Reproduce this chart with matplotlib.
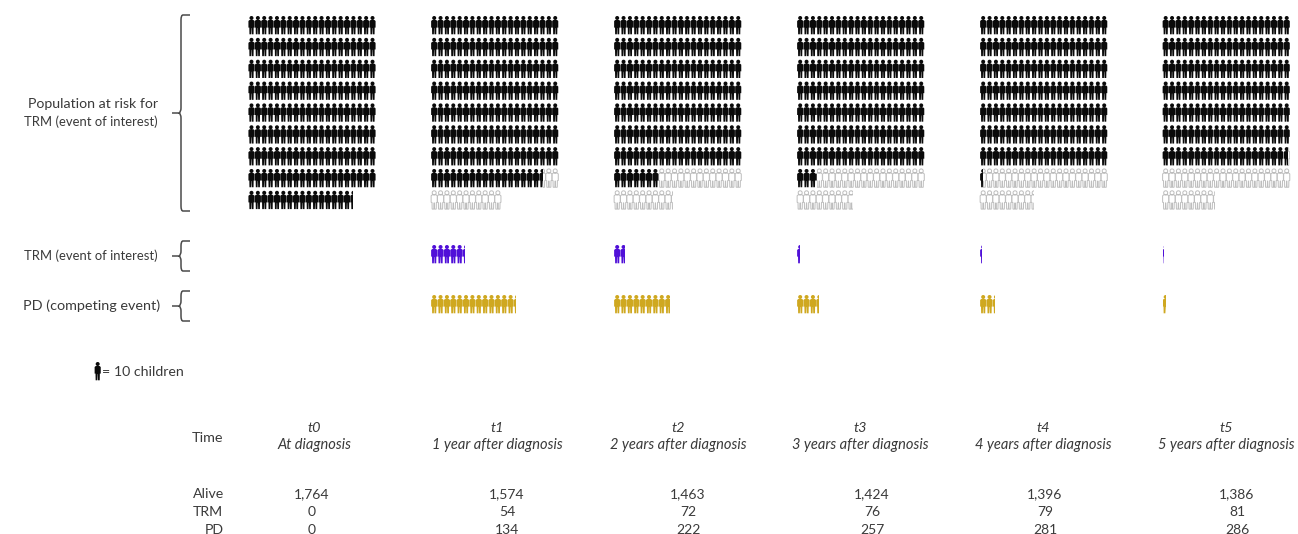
import matplotlib
matplotlib.use("Agg")
import matplotlib.pyplot as plt
from matplotlib.path import Path
from matplotlib.patches import PathPatch, Rectangle
from matplotlib.transforms import Affine2D

# ---- data (one icon = 10 children) ----
time_ids = ["t0", "t1", "t2", "t3", "t4", "t5"]
time_labels = ["At diagnosis", "1 year after diagnosis", "2 years after diagnosis",
               "3 years after diagnosis", "4 years after diagnosis", "5 years after diagnosis"]
alive = ["1,764", "1,574", "1,463", "1,424", "1,396", "1,386"]
trm = ["0", "54", "72", "76", "79", "81"]
pd_counts = ["0", "134", "222", "257", "281", "286"]
at_risk_icons = [176.4, 157.6, 147.0, 143.1, 140.4, 139.7]
removed_icons_end = [176.4, 171.0, 169.2, 168.8, 168.5, 168.3]
trm_new_icons = [0, 5.4, 1.8, 0.4, 0.3, 0.2]
pd_new_icons = [0, 13.4, 8.8, 3.5, 2.4, 0.5]

# ---- layout (pixels) ----
W, H = 1298, 534
col_x = [248.3, 431, 614, 797, 980, 1162.5]
header_cx = [314, 497, 678, 860, 1043, 1226]
value_cx = [312, 507, 688, 872, 1045, 1237]
ICON_W, ICON_H = 6.37, 18.3
ROW_PITCH = 21.85
PER_ROW = 20

BLACK, OUTLINE, PURPLE, GOLD = "#0a0a0a", "#bdbdbd", "#5010d8", "#cfa820"
TEXT = "#3a3a3a"
FONT = "Lato"

fig = plt.figure(figsize=(W / 100, H / 100), dpi=100)
ax = fig.add_axes([0, 0, 1, 1])
ax.set_xlim(0, W)
ax.set_ylim(H, 0)
ax.axis("off")


def icon_path():
    w, h = ICON_W, ICON_H
    head = Path.circle((w * 0.5, 2.0), 2.0)
    verts = [(w * .20, 4.0), (w * .80, 4.0), (w * .98, 5.0), (w * .98, 11.6),
             (w * .84, 11.6), (w * .82, h), (w * .55, h), (w * .52, 12.0),
             (w * .48, 12.0), (w * .45, h), (w * .18, h), (w * .16, 11.6),
             (w * .02, 11.6), (w * .02, 5.0), (w * .20, 4.0)]
    codes = [Path.MOVETO] + [Path.LINETO] * (len(verts) - 2) + [Path.CLOSEPOLY]
    return Path.make_compound_path(head, Path(verts, codes))


ICON = icon_path()


def draw_icons(x0, y0, start, stop, face, edge="none", lw=0.0, zorder=2):
    """Draw icons from position start to stop (fractions clip the icon)."""
    i = int(start)
    while i < stop:
        row, col = divmod(i, PER_ROW)
        x, y = x0 + col * ICON_W, y0 + row * ROW_PITCH
        lo, hi = max(start, i), min(stop, i + 1)
        patch = PathPatch(ICON, facecolor=face, edgecolor=edge, lw=lw, zorder=zorder,
                          transform=Affine2D().translate(x, y) + ax.transData)
        ax.add_patch(patch)
        if hi - lo < 1:
            clip = Rectangle((x0 + col * ICON_W + (lo - i) * ICON_W, y - 1),
                             (hi - lo) * ICON_W, ICON_H + 2, transform=ax.transData)
            patch.set_clip_path(clip)
        i += 1


def brace(x_tip, x_mid, x_end, y_top, y_bot):
    y_mid = (y_top + y_bot) / 2
    r = 5
    verts = [(x_end, y_top), (x_mid + 2, y_top), (x_mid, y_top), (x_mid, y_top + r),
             (x_mid, y_mid - r), (x_mid, y_mid - 1), (x_mid - 2, y_mid), (x_tip, y_mid),
             (x_mid - 2, y_mid), (x_mid, y_mid + 1), (x_mid, y_mid + r),
             (x_mid, y_bot - r), (x_mid, y_bot), (x_mid + 2, y_bot), (x_end, y_bot)]
    codes = [Path.MOVETO, Path.LINETO, Path.CURVE3, Path.CURVE3, Path.LINETO,
             Path.CURVE3, Path.CURVE3, Path.LINETO, Path.MOVETO, Path.CURVE3, Path.CURVE3,
             Path.LINETO, Path.CURVE3, Path.CURVE3, Path.LINETO]
    ax.add_patch(PathPatch(Path(verts, codes), fc="none", ec="#4a4a4a", lw=1.1))


def label(x, y, s, ha="center", style="normal", size=10.2):
    ax.text(x, y, s, ha=ha, va="center", family=[FONT, "DejaVu Sans"], style=style,
            size=size, color=TEXT)


for k, x0 in enumerate(col_x):
    draw_icons(x0, 16, at_risk_icons[k], removed_icons_end[k], "white", OUTLINE, 0.7)
    draw_icons(x0, 16, 0, at_risk_icons[k], BLACK, zorder=3)
    draw_icons(x0, 245, 0, trm_new_icons[k], PURPLE)
    draw_icons(x0, 295, 0, pd_new_icons[k], GOLD)

brace(172, 181, 190, 15, 211)
brace(172, 181, 190, 241, 271)
brace(172, 181, 190, 291, 321)

label(158, 104, "Population at risk for", ha="right")
label(158, 122, "TRM (event of interest)", ha="right", size=9.4)
label(158, 256, "TRM (event of interest)", ha="right", size=9.4)
label(160, 306, "PD (competing event)", ha="right", size=10.4)

draw_icons(94.5, 362, 0, 1, BLACK)
label(102, 372, "= 10 children", ha="left", size=10.2)

label(207, 438, "Time", size=10.4)
for k in range(6):
    label(header_cx[k], 428, time_ids[k], style="italic", size=10.4)
    label(header_cx[k], 445, time_labels[k], style="italic", size=10.5)
    label(value_cx[k], 494, alive[k], size=10)
    label(value_cx[k], 512, trm[k], size=10)
    label(value_cx[k], 530, pd_counts[k], size=10)
label(209, 494, "Alive", size=10.2)
label(208, 512, "TRM", size=10.2)
label(214, 530, "PD", size=10.2)

fig.savefig("out.png", dpi=100, facecolor="white")
